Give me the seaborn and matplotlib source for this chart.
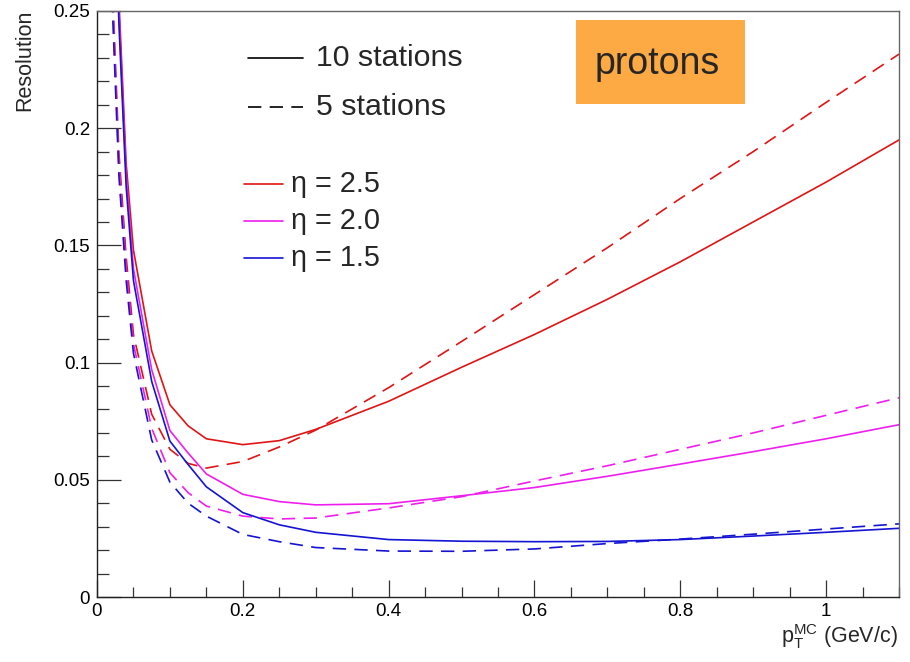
import numpy as np
import pandas as pd
import matplotlib
matplotlib.use("Agg")
import matplotlib.pyplot as plt
from matplotlib.ticker import MultipleLocator, FuncFormatter
from matplotlib.lines import Line2D
import seaborn as sns

# transverse momentum points (GeV/c)
pt = [0.02, 0.03, 0.04, 0.05, 0.075, 0.1, 0.125, 0.15, 0.2, 0.25, 0.3,
      0.4, 0.5, 0.6, 0.7, 0.8, 0.9, 1.0, 1.1]

# momentum resolution, 10 tracking stations
res10_eta25 = [0.38, 0.255, 0.185, 0.148, 0.105, 0.082, 0.073, 0.0675, 0.065, 0.0667, 0.0715,
               0.0835, 0.098, 0.112, 0.127, 0.143, 0.160, 0.177, 0.195]
res10_eta20 = [0.37, 0.25, 0.18, 0.14, 0.097, 0.071, 0.0614, 0.0525, 0.0438, 0.0407, 0.0393,
               0.0398, 0.0432, 0.0467, 0.0515, 0.0567, 0.062, 0.0675, 0.0735]
res10_eta15 = [0.36, 0.245, 0.175, 0.135, 0.092, 0.0665, 0.0565, 0.047, 0.036, 0.0308, 0.0276,
               0.0245, 0.0238, 0.0236, 0.0237, 0.0245, 0.026, 0.0276, 0.0293]

# momentum resolution, 5 tracking stations
res5_eta25 = [0.27, 0.19, 0.145, 0.112, 0.078, 0.063, 0.057, 0.055, 0.0578, 0.064, 0.0712,
              0.0893, 0.109, 0.129, 0.149, 0.170, 0.190, 0.211, 0.2316]
res5_eta20 = [0.265, 0.185, 0.14, 0.108, 0.072, 0.053, 0.0445, 0.0388, 0.0345, 0.0333, 0.0337,
              0.038, 0.0428, 0.0495, 0.056, 0.063, 0.070, 0.0775, 0.085]
res5_eta15 = [0.26, 0.18, 0.135, 0.104, 0.067, 0.049, 0.040, 0.0345, 0.0267, 0.0236, 0.0211,
              0.0196, 0.0195, 0.0205, 0.0228, 0.0247, 0.0268, 0.029, 0.0312]

eta_labels = ["η = 2.5", "η = 2.0", "η = 1.5"]
station_labels = ["10 stations", "5 stations"]
eta_colors = ["#e01414", "#ee1eee", "#1414d2"]

series = {
    ("10 stations", "η = 2.5"): res10_eta25,
    ("10 stations", "η = 2.0"): res10_eta20,
    ("10 stations", "η = 1.5"): res10_eta15,
    ("5 stations", "η = 2.5"): res5_eta25,
    ("5 stations", "η = 2.0"): res5_eta20,
    ("5 stations", "η = 1.5"): res5_eta15,
}
rows = []
for (st, eta), vals in series.items():
    for x, y in zip(pt, vals):
        rows.append({"pt": x, "res": y, "eta": eta, "stations": st})
df = pd.DataFrame(rows)

sns.set_theme(style="ticks")
plt.rcParams["font.family"] = ["Liberation Sans", "DejaVu Sans"]
plt.rcParams["mathtext.fontset"] = "custom"
plt.rcParams["mathtext.rm"] = "Liberation Sans"
plt.rcParams["mathtext.it"] = "Liberation Sans"

W, H = 910, 662
fig = plt.figure(figsize=(W / 100, H / 100), dpi=100)
ax = fig.add_axes([97 / W, 1 - 597 / H, (899 - 97) / W, (597 - 11) / H])

sns.lineplot(data=df, x="pt", y="res", hue="eta", style="stations",
             hue_order=eta_labels, style_order=station_labels,
             palette=dict(zip(eta_labels, eta_colors)),
             dashes={"10 stations": "", "5 stations": (8, 5)},
             errorbar=None, legend=False, linewidth=1.2, ax=ax)

ax.set_xlim(0, 1.1)
ax.set_ylim(0, 0.25)
ax.set_xlabel("")
ax.set_ylabel("")

ax.xaxis.set_major_locator(MultipleLocator(0.2))
ax.xaxis.set_minor_locator(MultipleLocator(0.05))
ax.yaxis.set_major_locator(MultipleLocator(0.05))
ax.yaxis.set_minor_locator(MultipleLocator(0.01))
fmt = FuncFormatter(lambda v, p: "%g" % round(v, 4))
ax.xaxis.set_major_formatter(fmt)
ax.yaxis.set_major_formatter(fmt)

ax.tick_params(axis="both", which="both", direction="in", color="#333333",
               width=0.9, labelsize=13.5, labelcolor="black")
ax.tick_params(axis="x", which="major", length=12, pad=4)
ax.tick_params(axis="x", which="minor", length=7)
ax.tick_params(axis="y", which="major", length=17, pad=5)
ax.tick_params(axis="y", which="minor", length=8.6)

for side in ["left", "bottom"]:
    ax.spines[side].set_color("#222222")
    ax.spines[side].set_linewidth(1.0)
for side in ["top", "right"]:
    ax.spines[side].set_visible(True)
    ax.spines[side].set_color("#666666")
    ax.spines[side].set_linewidth(1.0)

# axis titles
fig.text(25 / W, 1 - 10 / H, "Resolution", rotation=90, ha="center", va="top",
         fontsize=15.5)
fig.text(898 / W, 1 - 637 / H, r"p$_{\mathrm{T}}^{\mathrm{MC}}$ (GeV/c)",
         ha="right", va="center", fontsize=15.5)

# station legend
def fx(px):
    return px / W

def fy(py):
    return 1 - py / H

fig.add_artist(Line2D([fx(248), fx(303)], [fy(58), fy(58)], color="black",
                      lw=1.2, transform=fig.transFigure))
fig.add_artist(Line2D([fx(248), fx(303)], [fy(107), fy(107)], color="black",
                      lw=1.2, dashes=(8, 5), transform=fig.transFigure))
fig.text(fx(316), fy(58), "10 stations", ha="left", va="center", fontsize=21.8)
fig.text(fx(316), fy(107), "5 stations", ha="left", va="center", fontsize=21.8)

# pseudorapidity legend
for lab, col, py in zip(eta_labels, eta_colors, [184, 221, 258]):
    fig.add_artist(Line2D([fx(244), fx(283)], [fy(py), fy(py)], color=col,
                          lw=1.2, transform=fig.transFigure))
    fig.text(fx(291), fy(py), lab, ha="left", va="center", fontsize=20.8)

# particle species tag
fig.patches.append(plt.Rectangle((fx(576), fy(104)), (745 - 576) / W, (104 - 20) / H,
                                 transform=fig.transFigure, facecolor="#fdaa44",
                                 edgecolor="none", zorder=5))
fig.text(fx(657), fy(64), "protons", ha="center", va="center", fontsize=27,
         zorder=6)

fig.savefig("out.png", dpi=100)
